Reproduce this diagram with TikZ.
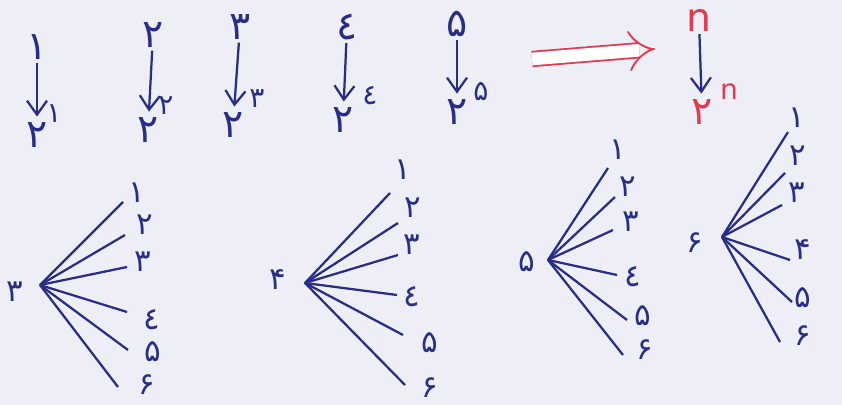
\documentclass[tikz,border=0pt]{standalone}
\usepackage{fontspec}
\newfontfamily\fafont{DejaVu Sans}
\usetikzlibrary{arrows.meta, positioning}
\definecolor{ink}{RGB}{40,45,135}
\definecolor{redink}{RGB}{228,58,80}
\definecolor{paper}{RGB}{238,238,246}

\begin{document}
\begin{tikzpicture}[x=0.025cm, y=-0.025cm,
    digit/.style={font=\fafont\fontsize{22}{24}\selectfont, text=ink, inner sep=0pt},
    big/.style={digit, font=\fafont\fontsize{28}{30}\selectfont},
    sup/.style={digit, font=\fafont\fontsize{20}{22}\selectfont},
    arrow/.style={-{Straight Barb[length=3.5mm, width=5mm]}, line width=1.6pt, draw=ink, shorten <=2pt, shorten >=4pt},
    fan/.style={line width=1.6pt, draw=ink},
    implies/.style={-{Implies}, double, double distance=9pt, line width=1.3pt, draw=redink}
]

% paper
\fill[paper] (0,0) rectangle (842,405);

% Top row - powers of two
\node[big] (t1) at (37,47) {۱};
\node[big] (b1) at (37,135) {۲};
\node[sup] (s1) at (54,114) {۱};
\node[big] (t2) at (153,35) {۲};
\node[big] (b2) at (148,130) {۲};
\node[sup] (s2) at (166,106) {۲};
\node[big] (t3) at (240,27) {۳};
\node[big] (b3) at (233,125) {۲};
\node[sup] (s3) at (257,99) {۳};
\node[big] (t4) at (347,27) {٤};
\node[big] (b4) at (343,120) {۲};
\node[sup] (s4) at (370,96) {٤};
\node[big] (t5) at (457,24) {۵};
\node[big] (b5) at (457,112) {۲};
\node[sup] (s5) at (481,92) {۵};

\draw[arrow] (t1) -- (b1);
\draw[arrow] (t2) -- (b2);
\draw[arrow] (t3) -- (b3);
\draw[arrow] (t4) -- (b4);
\draw[arrow] (t5) -- (b5);

% Conclusion in red
\coordinate (imp1) at (532,59);
\coordinate (imp2) at (655,49);
\draw[implies] (imp1) -- (imp2);
\node[big, text=redink] (tn) at (699,20) {n};
\node[big, text=redink] (bn) at (702,112) {۲};
\node[sup, text=redink] (sn) at (729,92) {n};
\draw[arrow] (tn) -- (bn);

% Fan of three
\coordinate (h1) at (40,285);
\node[digit] (h1l) at (15,292) {۳};
\foreach \i/\ex/\ey/\lx/\ly/\t in {1/123/202/137/193/۱, 2/125/235/145/225/۲, 3/127/267/143/262/۳,
    4/127/312/152/320/٤, 5/128/350/153/352/۵, 6/118/387/147/385/۶} {
  \coordinate (f1e\i) at (\ex,\ey);
  \node[digit] (f1n\i) at (\lx,\ly) {\t};
  \draw[fan] (h1) -- (f1e\i);
}

% Fan of four
\coordinate (h2) at (305,283);
\node[digit] (h2l) at (278,280) {۴};
\foreach \i/\ex/\ey/\lx/\ly/\t in {1/390/193/403/170/۱, 2/398/223/413/208/۲, 3/398/255/412/245/۳,
    4/397/295/412/297/٤, 5/403/335/430/343/۵, 6/405/385/430/388/۶} {
  \coordinate (f2e\i) at (\ex,\ey);
  \node[digit] (f2n\i) at (\lx,\ly) {\t};
  \draw[fan] (h2) -- (f2e\i);
}

% Fan of five
\coordinate (h3) at (548,260);
\node[digit] (h3l) at (527,262) {۵};
\foreach \i/\ex/\ey/\lx/\ly/\t in {1/608/168/618/150/۱, 2/615/197/628/187/۲, 3/613/230/631/222/۳,
    4/617/275/633/277/٤, 5/627/320/643/316/۵, 6/623/355/645/350/۶} {
  \coordinate (f3e\i) at (\ex,\ey);
  \node[digit] (f3n\i) at (\lx,\ly) {\t};
  \draw[fan] (h3) -- (f3e\i);
}

% Fan of six
\coordinate (h4) at (722,237);
\node[digit] (h4l) at (695,243) {۶};
\foreach \i/\ex/\ey/\lx/\ly/\t in {1/788/132/797/118/۱, 2/785/173/798/156/۲, 3/782/205/797/193/۳,
    4/790/260/803/250/۴, 5/792/302/803/298/۵, 6/780/342/803/336/۶} {
  \coordinate (f4e\i) at (\ex,\ey);
  \node[digit] (f4n\i) at (\lx,\ly) {\t};
  \draw[fan] (h4) -- (f4e\i);
}

\end{tikzpicture}
\end{document}
